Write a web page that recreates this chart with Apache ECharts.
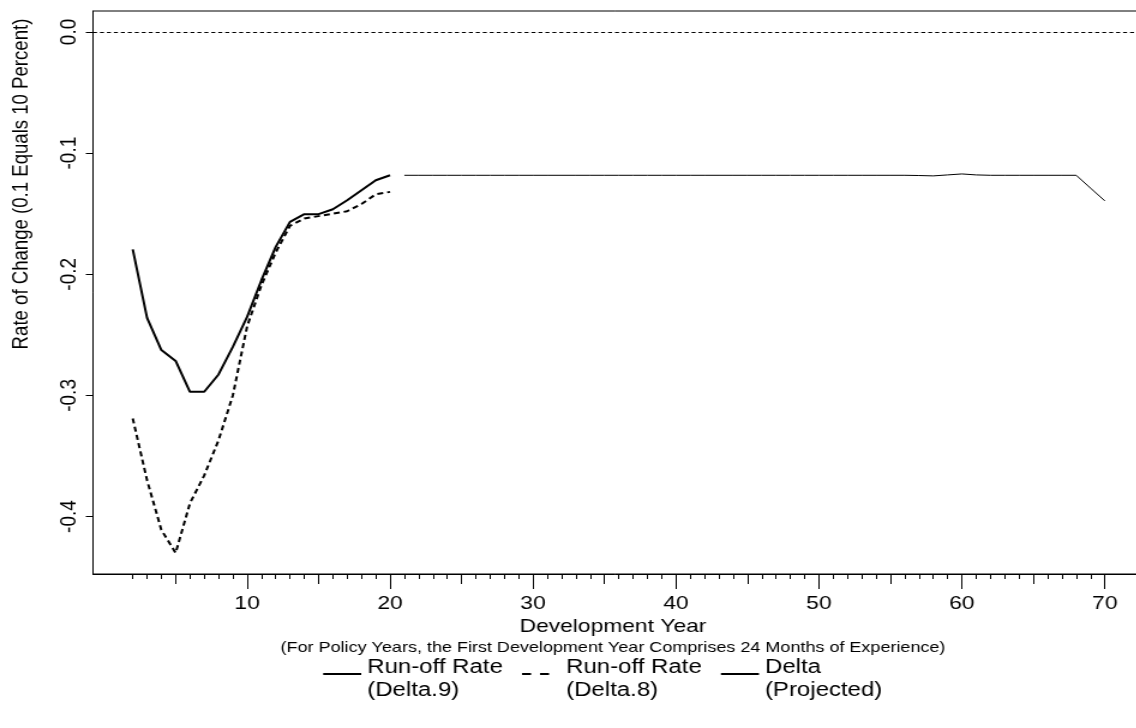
<!DOCTYPE html>
<html>
<head>
<meta charset="utf-8">
<title>Rate of Change</title>
<script src="https://cdn.jsdelivr.net/npm/echarts@6/dist/echarts.min.js"></script>
<style>
  html, body { margin: 0; padding: 0; background: #fff; overflow: hidden; }
  /* the original picture is stretched sideways, so the chart is drawn narrow and widened */
  #main { width: 947px; height: 728px; transform: scaleX(1.2); transform-origin: 0 0; }
</style>
</head>
<body>
<div id="main"></div>
<script>
// development years for the two run-off curves
var runYears = [2, 3, 4, 5, 6, 7, 8, 9, 10, 11, 12, 13, 14, 15, 16, 17, 18, 19, 20];
// Run-off Rate (Delta.9)
var delta9 = [-0.1795, -0.236, -0.2626, -0.2715, -0.297, -0.297, -0.2827, -0.26, -0.2352, -0.2049,
              -0.1774, -0.1568, -0.1504, -0.1504, -0.1463, -0.1389, -0.1306, -0.1224, -0.1183];
// Run-off Rate (Delta.8)
var delta8 = [-0.319, -0.370, -0.411, -0.430, -0.389, -0.366, -0.337, -0.300, -0.243, -0.209,
              -0.182, -0.160, -0.154, -0.152, -0.150, -0.148, -0.142, -0.134, -0.132];

// projected delta, years 21..70
var projYears = [21, 22, 23, 24, 25, 26, 27, 28, 29, 30, 31, 32, 33, 34, 35, 36, 37, 38, 39, 40,
                 41, 42, 43, 44, 45, 46, 47, 48, 49, 50, 51, 52, 53, 54, 55, 56, 57, 58, 59, 60,
                 61, 62, 63, 64, 65, 66, 67, 68, 69, 70];
var projected = [-0.1183, -0.1183, -0.1183, -0.1183, -0.1183, -0.1183, -0.1183, -0.1183, -0.1183, -0.1183,
                 -0.1183, -0.1183, -0.1183, -0.1183, -0.1183, -0.1183, -0.1183, -0.1183, -0.1183, -0.1183,
                 -0.1183, -0.1183, -0.1183, -0.1183, -0.1183, -0.1183, -0.1183, -0.1183, -0.1183, -0.1183,
                 -0.1183, -0.1183, -0.1183, -0.1183, -0.1183, -0.1183, -0.1185, -0.1188, -0.1180, -0.1172,
                 -0.1180, -0.1183, -0.1183, -0.1183, -0.1183, -0.1183, -0.1183, -0.1183, -0.1289, -0.1394];

// tick labels
var yTicks = [0, -0.1, -0.2, -0.3, -0.4];
var xMinorTicks = [2, 3, 4, 5, 6, 7, 8, 9, 10, 11, 12, 13, 14, 15, 16, 17, 18, 19, 20, 21, 22, 23, 24, 25,
                   26, 27, 28, 29, 30, 31, 32, 33, 34, 35, 36, 37, 38, 39, 40, 41, 42, 43, 44, 45, 46, 47,
                   48, 49, 50, 51, 52, 53, 54, 55, 56, 57, 58, 59, 60, 61, 62, 63, 64, 65, 66, 67, 68, 69, 70];
var xMidTicks = [5, 15, 25, 35, 45, 55, 65];
var xMajorTicks = [10, 20, 30, 40, 50, 60, 70];

var FONT = 'Liberation Sans, Arial, sans-serif';

function pairs(xs, ys) {
    var out = [];
    for (var i = 0; i < xs.length; i++) {
        out.push([xs[i], ys[i]]);
    }
    return out;
}

// one of the three stacked x axes (same scale, different tick lengths)
function xAxisLayer(ticks, len, showLine, showLabel) {
    return {
        type: 'value',
        position: 'bottom',
        min: -0.78,
        max: 73.05,
        axisLine: { show: showLine, onZero: false, lineStyle: { color: '#000', width: 1 } },
        axisTick: { show: true, customValues: ticks, length: len, lineStyle: { color: '#000', width: 1 } },
        axisLabel: {
            show: showLabel,
            customValues: showLabel ? ticks : [],
            margin: 20,
            color: '#000',
            fontFamily: FONT,
            fontSize: 19
        },
        splitLine: { show: false }
    };
}

var myChart = echarts.init(document.getElementById('main'));

var option = {
    animation: false,
    backgroundColor: '#fff',
    grid: {
        left: 77.5,
        top: 11,
        right: -10,
        bottom: 154,
        show: true,
        borderColor: '#000',
        borderWidth: 1,
        outerBoundsMode: 'none'
    },
    xAxis: [
        xAxisLayer(xMinorTicks, 5, true, false),
        xAxisLayer(xMidTicks, 10, false, false),
        xAxisLayer(xMajorTicks, 15, false, true)
    ],
    yAxis: {
        type: 'value',
        min: -0.4474,
        max: 0.0173,
        axisLine: { show: true, onZero: false, lineStyle: { color: '#000', width: 1 } },
        axisTick: { show: true, customValues: yTicks, length: 6, lineStyle: { color: '#000' } },
        axisLabel: {
            customValues: yTicks,
            rotate: 90,
            margin: 10,
            color: '#000',
            fontFamily: FONT,
            fontSize: 19,
            formatter: function (v) { return v.toFixed(1); }
        },
        splitLine: { show: false }
    },
    legend: {
        left: 268.3,
        top: 650,
        padding: 0,
        itemWidth: 31.7,
        itemHeight: 14,
        itemGap: 15,
        itemStyle: { opacity: 0 },
        // a small blank first line pushes the text below the line icon, like the original key
        formatter: function (name) {
            var parts = name.split('\n');
            return '{s| }\n{t|' + parts[0] + '}\n{t|' + parts[1] + '}';
        },
        textStyle: {
            color: '#000',
            fontFamily: FONT,
            fontSize: 20,
            rich: {
                s: { fontSize: 2, lineHeight: 10 },
                t: { color: '#000', fontFamily: FONT, fontSize: 20, lineHeight: 23 }
            }
        },
        data: [
            { name: 'Run-off Rate\n(Delta.9)' },
            { name: 'Run-off Rate\n(Delta.8)', lineStyle: { type: [7.5, 7.5, 7.5, 9.2] } },
            { name: 'Delta\n(Projected)' }
        ]
    },
    graphic: [
        {
            type: 'text',
            x: 18.3,
            y: 184,
            rotation: Math.PI / 2,
            style: {
                text: 'Rate of Change (0.1 Equals 10 Percent)',
                fontFamily: FONT,
                fontSize: 18.6,
                fill: '#000',
                align: 'center',
                verticalAlign: 'middle'
            }
        },
        {
            type: 'text',
            x: 510.8,
            y: 627,
            style: {
                text: 'Development Year',
                fontFamily: FONT,
                fontSize: 19,
                fill: '#000',
                align: 'center',
                verticalAlign: 'middle'
            }
        },
        {
            type: 'text',
            x: 510.8,
            y: 648,
            style: {
                text: '(For Policy Years, the First Development Year Comprises 24 Months of Experience)',
                fontFamily: FONT,
                fontSize: 15,
                fill: '#000',
                align: 'center',
                verticalAlign: 'middle'
            }
        }
    ],
    series: [
        {
            name: 'Run-off Rate\n(Delta.9)',
            type: 'line',
            data: pairs(runYears, delta9),
            showSymbol: false,
            symbol: 'none',
            lineStyle: { color: '#000', width: 2 },
            itemStyle: { color: '#000' }
        },
        {
            name: 'Run-off Rate\n(Delta.8)',
            type: 'line',
            data: pairs(runYears, delta8),
            showSymbol: false,
            symbol: 'none',
            lineStyle: { color: '#000', width: 2, type: [5, 3.4] },
            itemStyle: { color: '#000' }
        },
        {
            name: 'Delta\n(Projected)',
            type: 'line',
            data: pairs(projYears, projected),
            showSymbol: false,
            symbol: 'none',
            lineStyle: { color: '#000', width: 1 },
            itemStyle: { color: '#000' },
            // zero reference line
            markLine: {
                silent: true,
                symbol: 'none',
                label: { show: false },
                lineStyle: { color: '#000', width: 1, type: [3.3, 2.5] },
                data: [{ yAxis: 0 }]
            }
        }
    ]
};

myChart.setOption(option);
</script>
</body>
</html>
